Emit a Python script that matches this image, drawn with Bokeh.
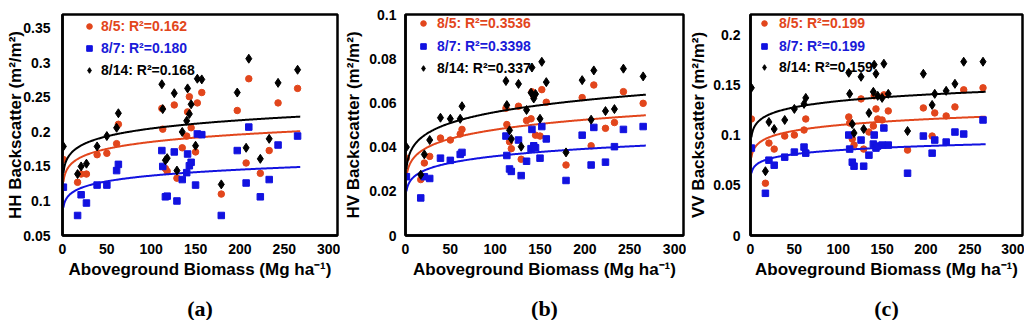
import numpy as np
from bokeh.plotting import figure
from bokeh.layouts import row
from bokeh.models import Legend, LegendItem, Title, FixedTicker, NumeralTickFormatter
from bokeh.embed import file_html
from bokeh.resources import INLINE

# ---------------- data ----------------
biomass = [1, 17, 21, 27, 39, 50, 61, 63, 112, 113, 116, 118, 126, 129, 135,
           140, 141, 143, 145, 150, 152, 157, 179, 197, 207, 210, 223, 233, 243, 265]

dates = ["8/5", "8/7", "8/14"]

hh_0805 = [0.160, 0.127, 0.139, 0.139, 0.167, 0.169, 0.183, 0.211, 0.234, 0.204,
           0.147, 0.143, 0.239, 0.133, 0.177, 0.194, 0.229, 0.251, 0.206, 0.171,
           0.242, 0.257, 0.110, 0.231, 0.155, 0.277, 0.140, 0.173, 0.242, 0.263]
hh_0807 = [0.120, 0.079, 0.109, 0.097, 0.123, 0.123, 0.144, 0.153, 0.173, 0.150,
           0.106, 0.107, 0.171, 0.100, 0.131, 0.141, 0.168, 0.151, 0.156, 0.123,
           0.197, 0.196, 0.079, 0.173, 0.126, 0.207, 0.106, 0.131, 0.181, 0.194]
hh_0814 = [0.179, 0.139, 0.150, 0.154, 0.179, 0.194, 0.206, 0.227, 0.269, 0.233,
           0.159, 0.162, 0.256, 0.144, 0.200, 0.216, 0.263, 0.226, 0.240, 0.180,
           0.277, 0.276, 0.124, 0.257, 0.177, 0.306, 0.161, 0.190, 0.271, 0.290]

hv_0805 = [0.0350, 0.0253, 0.0328, 0.0358, 0.0441, 0.0432, 0.0459, 0.0480, 0.0576, 0.0502,
           0.0424, 0.0393, 0.0585, 0.0345, 0.0520, 0.0528, 0.0650, 0.0633, 0.0454, 0.0450,
           0.0660, 0.0603, 0.0319, 0.0624, 0.0406, 0.0681, 0.0485, 0.0511, 0.0651, 0.0598]
hv_0807 = [0.0266, 0.0170, 0.0266, 0.0258, 0.0350, 0.0340, 0.0367, 0.0376, 0.0450, 0.0362,
           0.0301, 0.0290, 0.0432, 0.0271, 0.0336, 0.0393, 0.0480, 0.0406, 0.0397, 0.0350,
           0.0493, 0.0437, 0.0249, 0.0454, 0.0319, 0.0489, 0.0332, 0.0402, 0.0480, 0.0493]
hv_0814 = [0.0400, 0.0275, 0.0367, 0.0432, 0.0533, 0.0528, 0.0528, 0.0585, 0.0699, 0.0590,
           0.0476, 0.0437, 0.0686, 0.0402, 0.0568, 0.0646, 0.0760, 0.0620, 0.0640, 0.0528,
           0.0786, 0.0694, 0.0376, 0.0703, 0.0524, 0.0747, 0.0563, 0.0572, 0.0755, 0.0720]

vv_0805 = [0.116, 0.052, 0.092, 0.086, 0.099, 0.100, 0.105, 0.116, 0.118, 0.112,
           0.096, 0.090, 0.136, 0.086, 0.103, 0.109, 0.139, 0.126, 0.116, 0.115,
           0.140, 0.124, 0.085, 0.127, 0.099, 0.122, 0.119, 0.128, 0.145, 0.147]
vv_0807 = [0.087, 0.042, 0.075, 0.070, 0.078, 0.083, 0.088, 0.082, 0.100, 0.086,
           0.073, 0.069, 0.095, 0.069, 0.080, 0.091, 0.100, 0.087, 0.089, 0.090,
           0.107, 0.090, 0.062, 0.099, 0.082, 0.095, 0.093, 0.103, 0.101, 0.115]
vv_0814 = [0.147, 0.064, 0.113, 0.106, 0.115, 0.126, 0.131, 0.137, 0.162, 0.141,
           0.111, 0.102, 0.158, 0.106, 0.122, 0.143, 0.170, 0.161, 0.139, 0.137,
           0.171, 0.141, 0.104, 0.161, 0.130, 0.141, 0.144, 0.151, 0.173, 0.173]

r2_hh = ["0.162", "0.180", "0.168"]
r2_hv = ["0.3536", "0.3398", "0.337"]
r2_vv = ["0.199", "0.199", "0.159"]

x_ticks = [0, 50, 100, 150, 200, 250, 300]
hh_ticks = [0.05, 0.1, 0.15, 0.2, 0.25, 0.3, 0.35]
hv_ticks = [0, 0.02, 0.04, 0.06, 0.08, 0.1]
vv_ticks = [0, 0.05, 0.1, 0.15, 0.2]

# ---------------- styling ----------------
COLORS = ["#e2461c", "#1212e0", "#000000"]
TEXT_COLORS = ["#e2461c", "#1a1ad8", "#000000"]
MARKERS = ["circle", "square", "diamond"]
SIZES = [6.5, 6.5, 9]
SANS = "Liberation Sans"
FIG_H = 333
BOTTOM = 95


def make_panel(series, r2s, ylabel, y_range, y_ticks, caption, width,
               mbl, mbr, mbt, ytick_sd, ytitle_sd, leg_x, leg_ys, leg_sd):
    p = figure(width=width, height=FIG_H, x_range=(0, 310), y_range=y_range,
               output_backend="svg", toolbar_location=None,
               min_border_left=mbl, min_border_right=mbr,
               min_border_top=mbt, min_border_bottom=BOTTOM)
    p.grid.visible = False
    p.outline_line_color = "black"
    p.outline_line_width = 2.5
    for ax in (p.xaxis[0], p.yaxis[0]):
        ax.axis_line_width = 2.5
        ax.axis_line_color = "black"
        ax.major_tick_line_color = None
        ax.minor_tick_line_color = None
        ax.major_label_text_font = SANS
        ax.major_label_text_font_style = "bold"
        ax.major_label_text_font_size = "14px"
        ax.major_label_text_color = "black"
        ax.axis_label_text_font = SANS
        ax.axis_label_text_font_style = "bold"
        ax.axis_label_text_font_size = "17px"
        ax.axis_label_text_color = "black"
    p.xaxis.ticker = FixedTicker(ticks=x_ticks)
    p.yaxis.ticker = FixedTicker(ticks=y_ticks)
    p.yaxis.formatter = NumeralTickFormatter(format="0.[00]")
    p.xaxis.axis_label = "Aboveground Biomass (Mg ha\u207b\u00b9)"
    p.yaxis.axis_label = ylabel
    p.xaxis.major_label_standoff = 2
    p.xaxis.axis_label_standoff = 3
    p.yaxis.major_label_standoff = ytick_sd
    p.yaxis.axis_label_standoff = ytitle_sd

    xb = np.array(biomass, dtype=float)
    xs = np.linspace(1, 268, 300)
    for i, vals in enumerate(series):
        yv = np.array(vals, dtype=float)
        r = p.scatter(xb, yv, marker=MARKERS[i], size=SIZES[i],
                      fill_color=COLORS[i], line_color=COLORS[i])
        # power trend line fitted to the points
        b, lna = np.polyfit(np.log(xb), np.log(yv), 1)
        p.line(xs, np.exp(lna) * xs ** b, line_color=COLORS[i], line_width=2)
        leg = Legend(items=[LegendItem(label=f"{dates[i]}: R\u00b2={r2s[i]}", renderers=[r])],
                     location=(leg_x, leg_ys[i]), padding=0, margin=0, spacing=0,
                     glyph_width=14, glyph_height=20, label_height=20,
                     label_standoff=leg_sd,
                     background_fill_alpha=0, border_line_alpha=0,
                     label_text_font=SANS, label_text_font_style="bold",
                     label_text_font_size="14px", label_text_color=TEXT_COLORS[i])
        p.add_layout(leg, "center")
    p.add_layout(Title(text=caption, align="center", text_font="Liberation Serif",
                       text_font_style="bold", text_font_size="22px",
                       text_color="black", standoff=25), "below")
    return p


pa = make_panel([hh_0805, hh_0807, hh_0814], r2_hh, "HH Backscatter (m\u00b2/m\u00b2)",
                (0.05, 0.37), hh_ticks, "(a)", 340, 62, 3, 14, 6, -5, 20, [199, 177, 155], 5)
pb = make_panel([hv_0805, hv_0807, hv_0814], r2_hv, "HV Backscatter (m\u00b2/m\u00b2)",
                (0, 0.1), hv_ticks, "(b)", 346, 65, 3, 7, 3, 3, 11, [202, 179, 157], 7)
pc = make_panel([vv_0805, vv_0807, vv_0814], r2_vv, "VV Backscatter (m\u00b2/m\u00b2)",
                (0, 0.22), vv_ticks, "(c)", 338, 60, 2, 7, 4, 2, 7, [202, 179, 158], 8)

layout = row(pa, pb, pc, margin=(0, 0, -(FIG_H - 320), 0))
open("out.html", "w").write(file_html(layout, INLINE))
